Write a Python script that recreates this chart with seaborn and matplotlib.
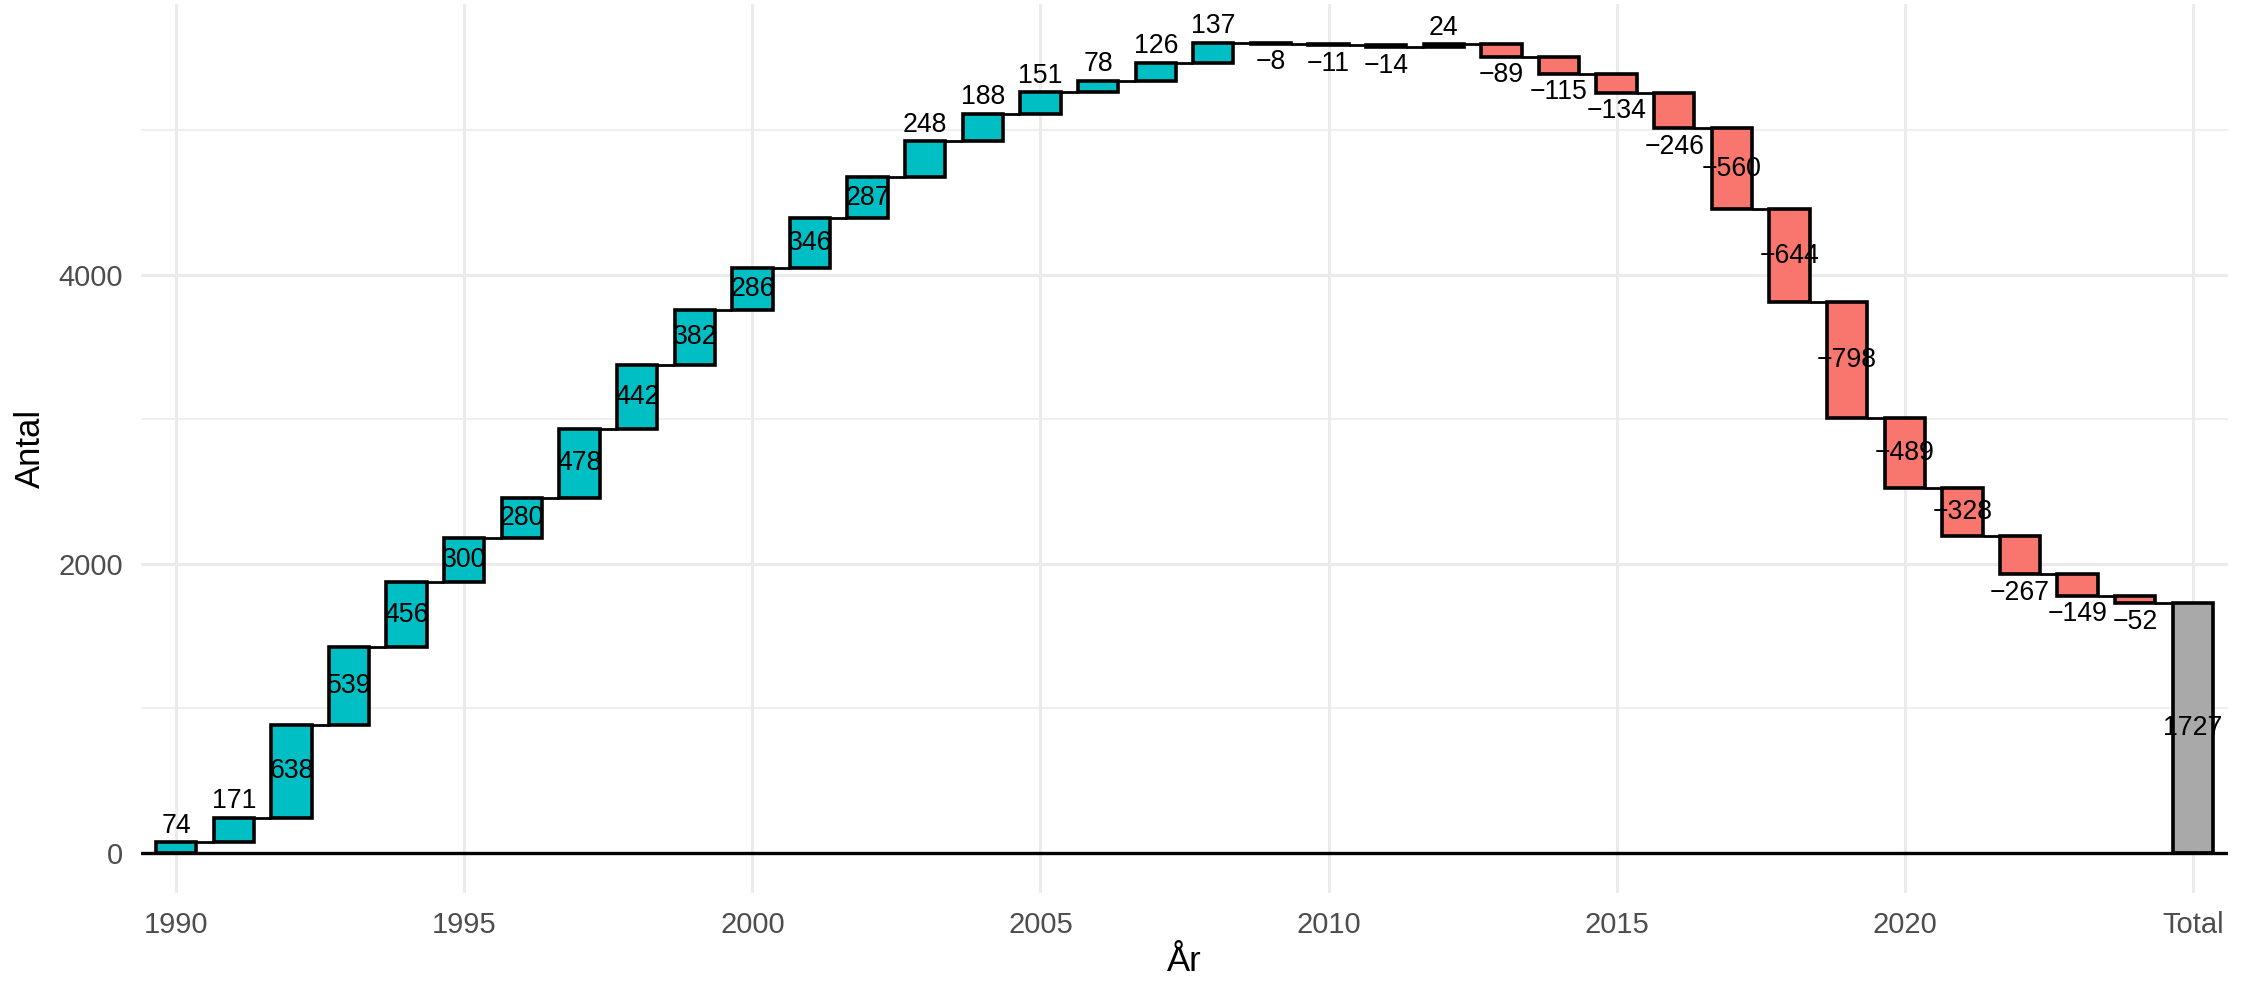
import matplotlib
matplotlib.use("Agg")
import matplotlib.pyplot as plt
from matplotlib.ticker import FixedLocator, MultipleLocator
import seaborn as sns
import numpy as np

# yearly change (Antal)
years = list(range(1990, 2025))
changes = [74, 171, 638, 539, 456, 300, 280, 478, 442, 382,
           286, 346, 287, 248, 188, 151, 78, 126, 137, -8,
           -11, -14, 24, -89, -115, -134, -246, -560, -644, -798,
           -489, -328, -267, -149, -52]
total_label = "Total"
total_pos = 2025
x_ticks = [1990, 1995, 2000, 2005, 2010, 2015, 2020, 2025]
x_ticklabels = ["1990", "1995", "2000", "2005", "2010", "2015", "2020", "Total"]
y_ticks = [0, 2000, 4000]

POS_COL = "#00BFC4"
NEG_COL = "#F8766D"
TOT_COL = "#A9A9A9"
BAR_W = 0.7
LBL_SIZE = 9.6

sns.set_theme(style="whitegrid")
plt.rcParams["font.family"] = ["Liberation Sans", "DejaVu Sans"]

end = np.cumsum(changes)
start = end - np.array(changes)
total = end[-1]

fig = plt.figure(figsize=(11.27, 4.94), dpi=200)
ax = fig.add_axes([141 / 2254, 95 / 988, 2087 / 2254, 889 / 988])

# waterfall steps
colors = [POS_COL if v >= 0 else NEG_COL for v in changes]
ax.bar(years, changes, bottom=start, width=BAR_W, color=colors,
       edgecolor="black", linewidth=1.3, zorder=3)
ax.bar([total_pos], [total], width=BAR_W, color=TOT_COL,
       edgecolor="black", linewidth=1.3, zorder=3)

# connectors between bars
conn_x = years + [total_pos]
for i in range(len(years)):
    ax.hlines(end[i], conn_x[i] + BAR_W / 2, conn_x[i + 1] - BAR_W / 2,
              color="black", linewidth=1.0, zorder=3)

ax.axhline(0, color="black", linewidth=1.2, zorder=4)

# labels: small steps outside the bar, others centred
for yr, v, s, e in zip(years, changes, start, end):
    txt = f"{v}".replace("-", "\u2212")
    if abs(v) < 275:
        if v >= 0:
            ax.annotate(txt, (yr, e), xytext=(0, 1.2), textcoords="offset points",
                        ha="center", va="bottom", fontsize=LBL_SIZE, color="black", zorder=5)
        else:
            ax.annotate(txt, (yr, e), xytext=(0, -2), textcoords="offset points",
                        ha="center", va="top", fontsize=LBL_SIZE, color="black", zorder=5)
    else:
        ax.text(yr, (s + e) / 2, txt, ha="center", va="center",
                fontsize=LBL_SIZE, color="black", zorder=5)
ax.text(total_pos, total / 2, f"{total}", ha="center", va="center",
        fontsize=LBL_SIZE, color="black", zorder=5)

ax.set_xlim(1989.39, 2025.61)
ax.set_ylim(-277, 5875)
ax.xaxis.set_major_locator(FixedLocator(x_ticks))
ax.set_xticklabels(x_ticklabels)
ax.yaxis.set_major_locator(FixedLocator(y_ticks))
ax.yaxis.set_minor_locator(MultipleLocator(1000))

ax.set_facecolor("white")
for sp in ax.spines.values():
    sp.set_visible(False)
ax.grid(which="major", color="#EBEBEB", linewidth=1.1, zorder=0)
ax.grid(which="minor", axis="y", color="#EBEBEB", linewidth=0.55, zorder=0)
ax.grid(which="minor", axis="x", visible=False)
ax.set_axisbelow(True)
ax.tick_params(which="both", length=0, pad=6.5, labelsize=10.5, labelcolor="#4D4D4D")

ax.set_xlabel("År", fontsize=12.5, color="black", labelpad=2)
ax.set_ylabel("Antal", fontsize=12.5, color="black", labelpad=4)

fig.savefig("out.png", dpi=200, facecolor="white")
